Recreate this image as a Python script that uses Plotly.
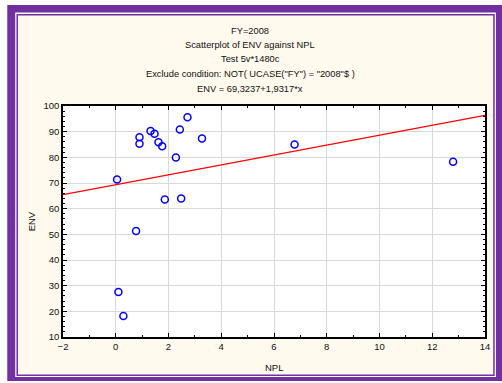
import plotly.graph_objects as go

# ---- data ----
npl = [0.05, 0.90, 0.90, 1.32, 1.47, 1.62, 1.76, 2.72, 2.43, 3.27, 2.28, 1.86, 2.48, 0.77, 0.10, 0.29, 6.78, 12.79]
env = [71.4, 87.8, 85.3, 90.3, 89.2, 85.9, 84.3, 95.6, 90.8, 87.3, 79.9, 63.6, 64.0, 51.3, 27.5, 18.2, 85.0, 78.3]
intercept = 69.3237
slope = 1.9317
x_range = [-2, 14]
y_range = [10, 100]
title_lines = [
    "FY=2008",
    "Scatterplot of ENV against NPL",
    "Test 5v*1480c",
    "Exclude condition: NOT( UCASE(\"FY\") = \"2008\"$ )",
    "ENV = 69,3237+1,9317*x",
]

# ---- layout geometry (pixels) ----
W, H = 502, 383
ML, MR, MT, MB = 63, 15, 106, 46
PW, PH = W - ML - MR, H - MT - MB


def px(x):
    return (x - ML) / PW


def py(y):
    return (H - MB - y) / PH


PURPLE = "#7030A0"
CREAM = "#FFF9EE"
FONT = "Liberation Sans, Arial, sans-serif"

fig = go.Figure()

fig.add_trace(go.Scatter(
    x=x_range,
    y=[intercept + slope * v for v in x_range],
    mode="lines",
    line=dict(color="#FF0000", width=1.4),
    hoverinfo="skip",
    showlegend=False,
))

fig.add_trace(go.Scatter(
    x=npl, y=env, mode="markers",
    marker=dict(symbol="circle-open", size=7, color="#0000FF", line=dict(width=1.5, color="#0000FF")),
    showlegend=False,
))

shapes = [
    dict(type="rect", xref="paper", yref="paper", layer="below",
         x0=px(7), x1=px(515), y0=py(5), y1=py(381),
         fillcolor=PURPLE, line=dict(width=0)),
    dict(type="rect", xref="paper", yref="paper", layer="below",
         x0=px(15), x1=px(498), y0=py(12.5), y1=py(377),
         fillcolor="white", line=dict(width=0)),
    dict(type="rect", xref="paper", yref="paper", layer="below",
         x0=px(17), x1=px(496), y0=py(14.8), y1=py(375.3),
         fillcolor=CREAM, line=dict(width=1.5, color=PURPLE)),
    dict(type="rect", xref="paper", yref="paper", layer="below",
         x0=0, x1=1, y0=0, y1=1,
         fillcolor="white", line=dict(width=0)),
]

annotations = []
ys = [30.7, 44.5, 59.3, 74, 88.5]
for t, yy in zip(title_lines, ys):
    annotations.append(dict(text=t, xref="paper", yref="paper", x=px(251), y=py(yy),
                            xanchor="center", yanchor="middle", showarrow=False,
                            font=dict(family=FONT, size=9.3, color="#111111")))
annotations.append(dict(text="ENV", xref="paper", yref="paper", x=px(31.7), y=py(221.5),
                        textangle=-90, xanchor="center", yanchor="middle", showarrow=False,
                        font=dict(family=FONT, size=9.5, color="#111111")))
annotations.append(dict(text="NPL", xref="paper", yref="paper", x=px(275), y=py(367.5),
                        xanchor="center", yanchor="middle", showarrow=False,
                        font=dict(family=FONT, size=9.5, color="#111111")))

axis_common = dict(
    showline=True, linecolor="black", linewidth=1.5, mirror="ticks",
    ticks="inside", ticklen=4, tickcolor="black", tickwidth=1,
    showgrid=True, gridcolor="#D9D9D9", gridwidth=1,
    zeroline=False,
    tickfont=dict(family=FONT, size=9.5, color="#111111"),
)

fig.update_layout(
    width=W, height=H,
    margin=dict(l=ML, r=MR, t=MT, b=MB, pad=0),
    paper_bgcolor="white",
    plot_bgcolor="white",
    shapes=shapes,
    annotations=annotations,
    xaxis=dict(range=x_range, dtick=2, tick0=-2,
               minor=dict(dtick=1, ticks="inside", ticklen=2, tickcolor="black", showgrid=False),
               **axis_common),
    yaxis=dict(range=y_range, dtick=10, tick0=10,
               minor=dict(dtick=2, ticks="inside", ticklen=2, tickcolor="black", showgrid=False),
               **axis_common),
)

fig.write_html(
    "out.html",
    config={"displayModeBar": False},
    post_script="document.body.style.margin='0';document.body.style.overflow='hidden';",
)
